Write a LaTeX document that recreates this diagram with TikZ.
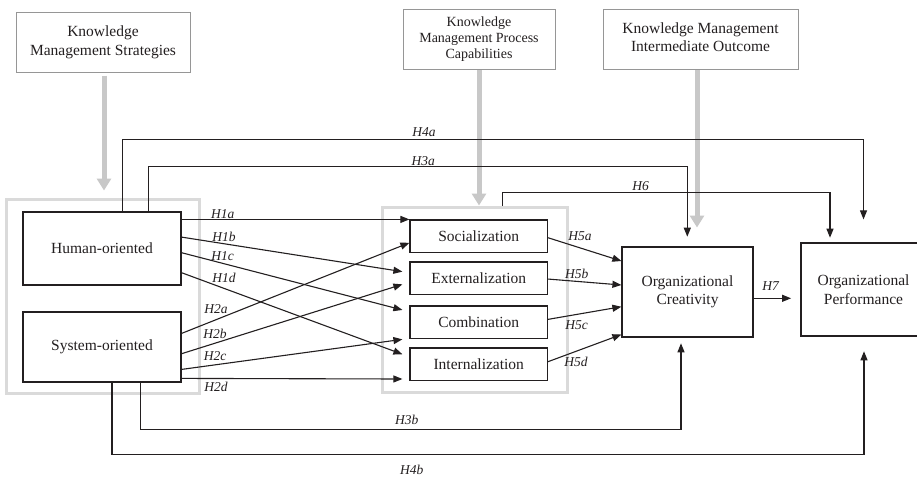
\documentclass[tikz,border=0pt]{standalone}
\usepackage{fontspec}
\setmainfont{Liberation Serif}
\usetikzlibrary{arrows.meta,calc}
\definecolor{ink}{RGB}{35,31,32}
\definecolor{topgray}{RGB}{150,150,150}
\definecolor{grpgray}{RGB}{218,218,218}
\definecolor{arrgray}{RGB}{200,200,200}
\newcommand{\liftlines}[2]{\raisebox{#1}{\begin{tabular}{@{}c@{}}#2\end{tabular}}}
\begin{document}
\begin{tikzpicture}[x=1pt,y=-1pt,
  box/.style={draw=ink, line width=1.2pt, rectangle, inner sep=0pt, align=center, text=ink,
     font=\fontsize{15.5}{18.5}\selectfont},
  topbox/.style={draw=topgray, line width=1pt, rectangle, inner sep=0pt, align=center, text=ink},
  grp/.style={draw=grpgray, line width=3pt, rectangle, inner sep=0pt},
  con/.style={draw=ink, line width=1.1pt, -{Triangle[length=9pt,width=7pt]}},
  bigarr/.style={draw=arrgray, line width=5pt, -{Triangle[length=12pt,width=14pt]}},
  hlab/.style={text=ink, font=\fontsize{13.5}{16}\selectfont\itshape, inner sep=0pt}
]
\useasboundingbox (0,0) rectangle (917,477);
\fill[white] (0,0) rectangle (917,477);

% top boxes
\node[topbox, minimum width=174pt, minimum height=60pt,
      font=\fontsize{15.5}{19}\selectfont] (kms) at (103,42)
      {\liftlines{5.5pt}{Knowledge\\Management Strategies}};
\node[topbox, minimum width=152pt, minimum height=60pt,
      font=\fontsize{14}{16}\selectfont] (kmpc) at (479,39) {Knowledge\\Management Process\\Capabilities};
\node[topbox, minimum width=195pt, minimum height=60pt,
      font=\fontsize{15.5}{18.3}\selectfont] (kmio) at (700.5,39)
      {\liftlines{5pt}{Knowledge Management\\Intermediate Outcome}};

% group frames
\node[grp, minimum width=193pt, minimum height=194pt] (grpL) at (102.5,296) {};
\node[grp, minimum width=185pt, minimum height=185pt] (grpP) at (474.5,299.5) {};

% main boxes
\node[box, minimum width=158pt, minimum height=73pt] (human) at (102,248.5) {Human-oriented};
\node[box, minimum width=158pt, minimum height=70pt] (system) at (102,347) {System-oriented};
\node[box, minimum width=137.5pt, minimum height=32.5pt] (soc) at (478.75,236.25) {Socialization};
\node[box, minimum width=137.5pt, minimum height=32.5pt] (ext) at (478.75,278.15) {Externalization};
\node[box, minimum width=137.5pt, minimum height=32.5pt] (comb) at (478.75,322.15) {Combination};
\node[box, minimum width=137.5pt, minimum height=32.5pt] (int) at (478.75,364.15) {Internalization};
\node[box, minimum width=131pt, minimum height=90pt] (crea) at (687.5,292) {Organizational\\Creativity};
\node[box, minimum width=125pt, minimum height=93pt] (perf) at (863.5,289.5) {Organizational\\Performance};

% gray arrows
\draw[bigarr] ($(kms.south)+(1,3)$) -- ($(kms.south)+(1,118)$);
\draw[bigarr] ($(kmpc.south)+(0,0.5)$) -- ($(kmpc.south)+(0,136)$);
\draw[bigarr] ($(kmio.south)+(-3.5,0.5)$) -- ($(kmio.south)+(-3.5,158)$);

% H1
\draw[con] (human.east |- soc.north west) -- (soc.north west);
\draw[con] ($(human.north east)+(0,25.7)$) -- ($(ext.west)+(-7,-6.5)$);
\draw[con] ($(human.north east)+(0,41.3)$) -- ($(comb.west)+(-7,-12.2)$);
\draw[con] ($(human.north east)+(0,61.3)$) -- ($(int.west)+(-7,-9.9)$);
% H2
\draw[con] ($(system.north east)+(0,22)$) -- ($(soc.west)+(0,6.5)$);
\draw[con] ($(system.north east)+(0,42.3)$) -- ($(ext.west)+(-7,6.2)$);
\draw[con] ($(system.north east)+(0,58)$) -- ($(comb.west)+(-7,17.2)$);
\draw[con] ($(system.north east)+(0,67)$) -- ($(int.west)+(-7,14.85)$);
% H5
\draw[con] ($(soc.east)+(0,1.5)$) -- ($(crea.west)+(0,-31)$);
\draw[con] ($(ext.east)+(0,0.9)$) -- ($(crea.west)+(0,-7)$);
\draw[con] ($(comb.east)+(0,-2.8)$) -- ($(crea.west)+(0,14.7)$);
\draw[con] ($(int.east)+(0,-2.5)$) -- ($(crea.west)+(0,42.5)$);
% H7
\draw[con] ($(crea.east)+(0,6.3)$) -- ($(perf.west)+(-9.3,8.8)$);
% H4a, H3a, H6
\draw[con] ($(human.north)+(20.7,0)$) -- ++(0,-72) -| ($(perf.north)+(0,-23)$);
\draw[con] ($(human.north)+(46.3,0)$) -- ++(0,-44.7) -| ($(crea.north)+(-0.2,-9.7)$);
\draw[con] ($(grpP.north)+(28.2,0)$) -- ++(0,-13) -| ($(perf.north)+(-33.5,-4.7)$);
% H3b, H4b
\draw[con] ($(system.south)+(38.7,0)$) -- ++(0,46.7) -| ($(crea.south)+(-6.5,5.7)$);
\draw[con] ($(system.south)+(10,0)$) -- ++(0,71.7) -| ($(perf.south)+(0.5,14.7)$);

% labels
\node[hlab] (l4a) at (424,131.7) {H4a};
\node[hlab] (l3a) at (423.3,160.7) {H3a};
\node[hlab] (l6) at (640.7,186) {H6};
\node[hlab] (l1a) at (222.7,214.3) {H1a};
\node[hlab] (l1b) at (224,236.7) {H1b};
\node[hlab] (l1c) at (222.7,256) {H1c};
\node[hlab] (l1d) at (224,278.3) {H1d};
\node[hlab] (l2a) at (216,309.3) {H2a};
\node[hlab] (l2b) at (215,334) {H2b};
\node[hlab] (l2c) at (215,355.7) {H2c};
\node[hlab] (l2d) at (216,387.3) {H2d};
\node[hlab] (l3b) at (406.7,420) {H3b};
\node[hlab] (l4b) at (411.7,470) {H4b};
\node[hlab] (l5a) at (580,235.7) {H5a};
\node[hlab] (l5b) at (576.7,274.3) {H5b};
\node[hlab] (l5c) at (576.7,325) {H5c};
\node[hlab] (l5d) at (576,361.7) {H5d};
\node[hlab] (l7) at (770.7,286) {H7};
\end{tikzpicture}
\end{document}
